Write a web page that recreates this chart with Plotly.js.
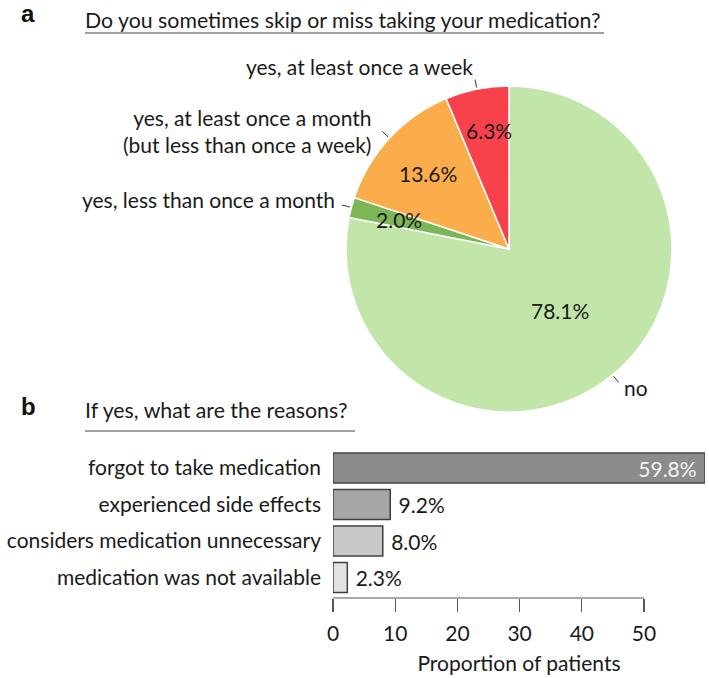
<!DOCTYPE html>
<html><head><meta charset="utf-8">
<script src="https://cdn.plot.ly/plotly-3.0.1.min.js"></script>
<style>html,body{margin:0;padding:0;background:#fff}</style>
</head><body><div id="chart" style="width:709px;height:678px"></div>
<script>
// ---- data ----
const pieLabels = ["no", "yes, less than once a month", "yes, at least once a month<br>(but less than once a week)", "yes, at least once a week"];
const pieValues = [78.1, 2.0, 13.6, 6.3];
const pieColors = ["#c2e5a9", "#7db656", "#fbac4b", "#f8424b"];
const reasonLabels = ["forgot to take medication", "experienced side effects", "considers medication unnecessary", "medication was not available"];
const reasonValues = [59.8, 9.2, 8.0, 2.3];
const reasonColors = ["#8c8c8c", "#a6a6a6", "#c8c8c8", "#e2e2e2"];
const xTicks = [0, 10, 20, 30, 40, 50];
const titleA = "Do you sometimes skip or miss taking your medication?";
const titleB = "If yes, what are the reasons?";
const xTitle = "Proportion of patients";

// ---- layout helpers ----
const W = 709, H = 678;
const FONT = "Lato, 'Open Sans', sans-serif";
const FS = 21;
const TXT = "#1a1a1a";
const px = x => x / W, py = y => 1 - y / H;
const cx = 509, cy = 249, R = 163;
const pieDomain = {x: [px(cx - R), px(cx + R)], y: [py(cy + R), py(cy - R)]};

const total = pieValues.reduce((a, b) => a + b, 0);
let cum = 0;
const mids = pieValues.map(v => { const m = (cum + v / 2) / total * 2 * Math.PI; cum += v; return m; });
const pt = (th, r) => [cx + r * Math.sin(th), cy - r * Math.cos(th)];

const annotations = [], shapes = [];
// inside percentage labels
const radFac = [0.49, 0.70, 0.68, 0.74];
pieValues.forEach((v, i) => {
  const [x, y] = pt(mids[i], R * radFac[i]);
  annotations.push({xref: "paper", yref: "paper", x: px(x + (i === 3 ? 4 : 0)), y: py(y), xanchor: "center", yanchor: "middle",
    text: v.toFixed(1) + "%", showarrow: false, font: {family: FONT, size: FS, color: TXT}});
});
// outside labels with leader ticks
const outCfg = [
  {xa: "left", dx: 3, dy: 5, al: "left"},
  {xa: "right", dx: -5, dy: -5, al: "right"},
  {xa: "right", dx: -9, dy: -1, al: "right"},
  {xa: "right", dx: 0, dy: -13, al: "right"}
];
pieLabels.forEach((lab, i) => {
  const [x0, y0] = pt(mids[i], R * 1.01);
  const [x1, y1] = pt(mids[i], R * 1.06);
  shapes.push({type: "line", xref: "paper", yref: "paper", x0: px(x0), y0: py(y0), x1: px(x1), y1: py(y1),
    line: {color: "#333", width: 1}});
  const c = outCfg[i];
  annotations.push({xref: "paper", yref: "paper", x: px(x1 + c.dx), y: py(y1 + c.dy), xanchor: c.xa, yanchor: "middle",
    align: c.al, text: lab, showarrow: false, font: {family: FONT, size: FS, color: TXT}});
});
// panel letters and titles
annotations.push({xref: "paper", yref: "paper", x: px(19), y: py(14), xanchor: "left", yanchor: "middle", text: "<b>a</b>",
  showarrow: false, font: {family: "'Liberation Sans', Arial, sans-serif", size: 24, color: "#111"}});
annotations.push({xref: "paper", yref: "paper", x: px(19), y: py(406), xanchor: "left", yanchor: "middle", text: "<b>b</b>",
  showarrow: false, font: {family: "'Liberation Sans', Arial, sans-serif", size: 24, color: "#111"}});
annotations.push({xref: "paper", yref: "paper", x: px(83), y: py(20), xanchor: "left", yanchor: "middle", text: titleA,
  showarrow: false, font: {family: FONT, size: 21.3, color: TXT}});
annotations.push({xref: "paper", yref: "paper", x: px(83), y: py(410), xanchor: "left", yanchor: "middle", text: titleB,
  showarrow: false, font: {family: FONT, size: 21.3, color: TXT}});
shapes.push({type: "line", xref: "paper", yref: "paper", x0: px(85), x1: px(604), y0: py(33), y1: py(33), line: {color: "#a0a0a0", width: 2}});
shapes.push({type: "line", xref: "paper", yref: "paper", x0: px(85), x1: px(355), y0: py(431), y1: py(431), line: {color: "#a0a0a0", width: 2}});
// x axis line (only over tick span)
const axisY = py(598);
shapes.push({type: "line", xref: "x", yref: "paper", x0: xTicks[0], x1: xTicks[xTicks.length - 1], y0: axisY, y1: axisY,
  line: {color: "#555", width: 1.2}});

const xMax = Math.max(...reasonValues);
const lastTick = xTicks[xTicks.length - 1];
const traces = [
  {type: "pie", values: pieValues, labels: pieLabels, sort: false, direction: "clockwise", rotation: 0,
   marker: {colors: pieColors, line: {color: "#ffffff", width: 1.5}}, textinfo: "none", hoverinfo: "skip",
   domain: pieDomain, showlegend: false},
  {type: "bar", orientation: "h", y: reasonLabels, x: reasonValues, xaxis: "x", yaxis: "y",
   width: 0.82,
   marker: {color: reasonColors, line: {color: "#404040", width: 1.5}},
   text: reasonValues.map(v => v > lastTick ? v.toFixed(1) + "%\u00a0" : "\u00a0" + v.toFixed(1) + "%"),
   textposition: reasonValues.map(v => v > lastTick ? "inside" : "outside"),
   insidetextanchor: "end", constraintext: "none", cliponaxis: false,
   textfont: {family: FONT, size: FS, color: reasonValues.map(v => v > lastTick ? "#f4f4f4" : TXT)},
   hoverinfo: "skip", showlegend: false}
];

const layout = {
  width: W, height: H, margin: {l: 0, r: 0, t: 0, b: 0},
  paper_bgcolor: "#fff", plot_bgcolor: "rgba(0,0,0,0)",
  font: {family: FONT, size: FS, color: TXT},
  showlegend: false,
  xaxis: {domain: [px(333), px(705)], range: [0, xMax], anchor: "free", position: axisY,
    tickvals: xTicks, ticks: "outside", ticklen: 13, tickcolor: "#555", tickwidth: 1.2, ticklabelstandoff: 4,
    showline: false, showgrid: false, zeroline: false, tickfont: {family: FONT, size: FS, color: TXT},
    title: {text: xTitle, font: {family: FONT, size: FS, color: TXT}, standoff: 12}},
  yaxis: {domain: [py(595.75), py(449.75)], type: "category", categoryarray: reasonLabels, categoryorder: "array",
    range: [reasonLabels.length - 0.5, -0.5], showgrid: false, zeroline: false, showline: false,
    ticks: "", ticklabelstandoff: 11, tickfont: {family: FONT, size: FS, color: TXT}},
  annotations: annotations, shapes: shapes
};
Plotly.newPlot("chart", traces, layout, {displayModeBar: false, staticPlot: true});
</script></body></html>
